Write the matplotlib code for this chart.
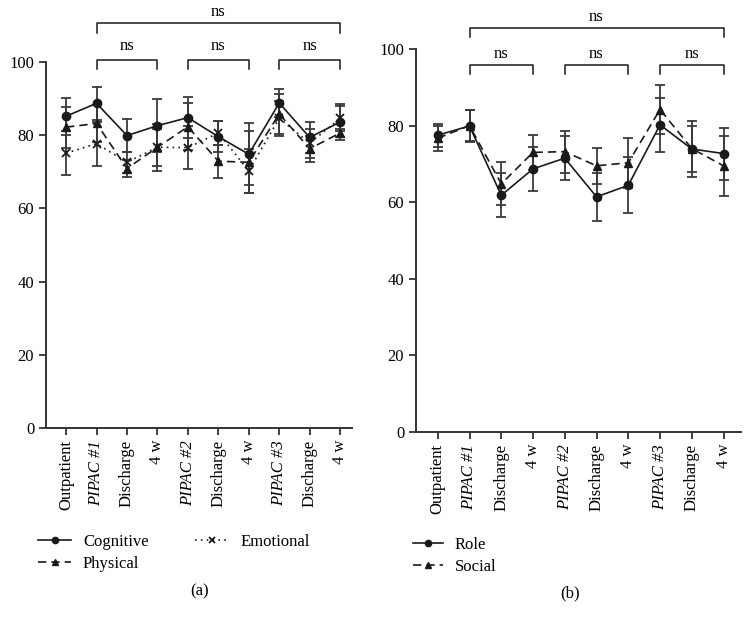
import matplotlib
matplotlib.use("Agg")
import matplotlib.pyplot as plt
from matplotlib.lines import Line2D

# Data
timepoints = ["Outpatient", "PIPAC #1", "Discharge", "4 w", "PIPAC #2",
              "Discharge", "4 w", "PIPAC #3", "Discharge", "4 w"]
italic_labels = ["PIPAC #1", "PIPAC #2", "PIPAC #3"]

cognitive = [85.2, 88.7, 79.9, 82.6, 84.8, 79.6, 74.8, 88.8, 79.4, 83.6]
cognitive_err = [5.1, 4.6, 4.4, 7.2, 5.7, 4.2, 8.4, 3.8, 4.2, 4.8]
physical = [82.2, 83.2, 70.9, 76.7, 82.3, 72.9, 72.6, 85.8, 76.3, 80.6]
physical_err = [5.6, 5.0, 2.4, 5.0, 6.4, 4.5, 8.5, 5.5, 3.6, 1.2]
emotional = [75.1, 77.7, 72.6, 76.7, 76.6, 80.6, 70.3, 84.6, 77.8, 84.6]
emotional_err = [6.0, 6.0, 2.8, 6.4, 5.8, 3.2, 6.0, 4.8, 4.0, 3.5]

role = [77.5, 79.9, 61.8, 68.7, 71.5, 61.4, 64.4, 80.2, 73.9, 72.7]
role_err = [3.0, 4.2, 5.7, 5.7, 5.7, 6.3, 7.3, 7.0, 7.3, 6.8]
social = [76.7, 80.0, 64.8, 73.0, 73.2, 69.5, 70.3, 84.2, 74.0, 69.5]
social_err = [3.3, 4.0, 5.6, 4.5, 5.5, 4.7, 6.5, 6.4, 6.0, 7.8]

# comparison brackets: (start index, end index)
brackets_low = [(1, 3), (4, 6), (7, 9)]
bracket_top = (1, 9)

plt.rcParams["font.family"] = ["Liberation Serif", "DejaVu Serif"]
plt.rcParams["font.size"] = 11

INK = "#1a1a1a"

fig = plt.figure(figsize=(7.54, 6.24), dpi=100)
W, H = 754.0, 624.0


def px_axes(x0, x1, ytop, ybot):
    return fig.add_axes([x0 / W, 1 - ybot / H, (x1 - x0) / W, (ybot - ytop) / H])


ax_a = px_axes(46, 352, 62, 428)
ax_b = px_axes(416, 741, 49, 432)

styles = {
    "o": dict(marker="o", linestyle="-", markersize=6),
    "^": dict(marker="^", linestyle=(0, (5, 3)), markersize=5.5),
    "x": dict(marker="x", linestyle=(0, (1, 2.5)), markersize=6, markeredgewidth=1.3),
}


def draw_series(ax, values, errors, kind):
    xs = list(range(len(values)))
    ax.errorbar(xs, values, yerr=errors, color=INK, ecolor="#3a3a3a",
                elinewidth=1.3, capsize=3.5, capthick=1.3, linewidth=1.2,
                **styles[kind])


def legend_handle(kind, label):
    st = dict(styles[kind])
    st["markersize"] = st["markersize"] * 0.75
    return Line2D([], [], color=INK, linewidth=1.2, label=label, **st)


def style_axes(ax, xmin, xmax):
    ax.set_xlim(xmin, xmax)
    ax.set_ylim(0, 100)
    ax.set_yticks([0, 20, 40, 60, 80, 100])
    ax.set_xticks(range(len(timepoints)))
    ax.set_xticklabels(timepoints, rotation=90)
    for lab in ax.get_xticklabels():
        if lab.get_text() in italic_labels:
            lab.set_fontstyle("italic")
    for side in ["top", "right"]:
        ax.spines[side].set_visible(False)
    for side in ["left", "bottom"]:
        ax.spines[side].set_linewidth(1.4)
        ax.spines[side].set_color("#333333")
    ax.tick_params(direction="out", length=5, width=1.3, color="#333333",
                   labelsize=12)


def draw_bracket(ax, i0, i1, y, leg, text_y):
    ax.plot([i0, i0, i1, i1], [y - leg, y, y, y - leg], color=INK,
            linewidth=1.1, clip_on=False)
    ax.text((i0 + i1) / 2.0, text_y, "ns", ha="center", va="center",
            fontsize=12, clip_on=False)


# (a)
draw_series(ax_a, cognitive, cognitive_err, "o")
draw_series(ax_a, physical, physical_err, "^")
draw_series(ax_a, emotional, emotional_err, "x")
style_axes(ax_a, -0.66, 9.39)
for i0, i1 in brackets_low:
    draw_bracket(ax_a, i0, i1, 100.5, 2.5, 104.3)
draw_bracket(ax_a, bracket_top[0], bracket_top[1], 110.7, 2.7, 113.7)

# (b)
draw_series(ax_b, role, role_err, "o")
draw_series(ax_b, social, social_err, "^")
style_axes(ax_b, -0.685, 9.55)
for i0, i1 in brackets_low:
    draw_bracket(ax_b, i0, i1, 95.7, 2.3, 98.6)
draw_bracket(ax_b, bracket_top[0], bracket_top[1], 105.6, 2.5, 108.4)

# legends
handles_a = [legend_handle("o", "Cognitive"), legend_handle("^", "Physical"),
             legend_handle("x", "Emotional")]
fig.legend(handles=handles_a, ncol=2, loc="upper left",
           bbox_to_anchor=(23 / W, 1 - 519 / H), frameon=False, fontsize=12,
           handlelength=2.0, labelspacing=0.35, columnspacing=2.8,
           handletextpad=0.7)
handles_b = [legend_handle("o", "Role"), legend_handle("^", "Social")]
fig.legend(handles=handles_b, loc="upper left",
           bbox_to_anchor=(398 / W, 1 - 522 / H), frameon=False, fontsize=12,
           handlelength=1.8, labelspacing=0.35, handletextpad=0.7)

fig.text(200 / W, 1 - 591 / H, "(a)", ha="center", va="center", fontsize=12)
fig.text(570 / W, 1 - 593 / H, "(b)", ha="center", va="center", fontsize=12)

fig.savefig("out.png", dpi=100)
